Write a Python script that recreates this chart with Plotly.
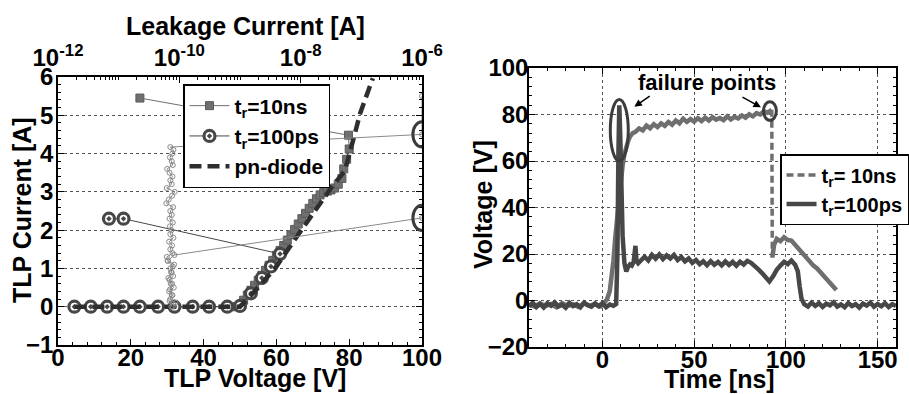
import numpy as np
import plotly.graph_objects as go

# ---------------- TLP I-V and leakage data (left panel) ----------------
# t_r = 10 ns TLP I-V (V, A); last point is the post-failure snapback
v_tlp_10ns = [4.5, 9, 13.5, 18, 22.5, 27.5, 32, 37, 41.5, 46.5, 48.5,
              50, 51, 52, 53, 54, 55, 56, 57, 58, 59, 60, 61, 62, 63, 64, 65, 66, 67, 68,
              69, 70, 71, 72, 73, 74, 75, 76, 77, 78, 78.5, 79.3, 80, 79.8, 22.5]
i_tlp_10ns = [0, 0, 0, 0, 0, 0, 0, 0, 0, 0, 0,
              0.05, 0.17, 0.3, 0.43, 0.56, 0.69, 0.82, 0.95, 1.08, 1.21, 1.34, 1.47, 1.6, 1.74,
              1.88, 2.02, 2.16, 2.3, 2.44, 2.57, 2.7, 2.82, 2.92, 2.98, 3.02, 3.05, 3.1, 3.2,
              3.35, 3.6, 3.85, 4.12, 4.48, 5.45]

# t_r = 100 ps TLP I-V
v_tlp_100ps = [4.5, 9, 13.5, 18, 22.5, 27.5, 32, 37, 41.5, 46.5, 50, 53, 56, 58.5, 61, 18, 14]
i_tlp_100ps = [0, 0, 0, 0, 0, 0, 0, 0, 0, 0, 0.02, 0.35, 0.75, 1.05, 1.38, 2.3, 2.3]

# pn-diode reference I-V
v_diode = [4.5, 50, 55, 60, 65, 70, 75, 78.8, 80.2, 81.5, 83, 84.8, 86.5]
i_diode = [0, 0, 0.5, 1.05, 1.75, 2.45, 3.1, 3.55, 4.0, 4.5, 5.05, 5.55, 5.97]

# leakage current after each pulse (A) vs. TLP current (A)
i_leak_10ns = [0.0, 0.1, 0.2, 0.3, 0.4, 0.5, 0.6, 0.7, 0.8, 0.9, 1.0, 1.1, 1.2, 1.3, 1.4,
               1.5, 1.6, 1.7, 1.8, 1.9, 2.0, 2.1, 2.2, 2.3, 2.4, 2.5, 2.6, 2.7, 2.8, 2.9,
               3.0, 3.1, 3.2, 3.3, 3.4, 3.5, 3.6, 3.7, 3.8, 3.9, 4.0, 4.1, 4.17, 4.5, 5.5]
leak_10ns = [7.8e-11, 8.7e-11, 7.1e-11, 7.5e-11, 6.8e-11, 8.1e-11, 7.2e-11, 6.9e-11, 7.9e-11,
             7.5e-11, 7.1e-11, 8.2e-11, 6.5e-11, 6.2e-11, 7.7e-11, 7.1e-11, 7.6e-11, 6.8e-11,
             8.0e-11, 7.1e-11, 7.4e-11, 7.0e-11, 7.8e-11, 6.9e-11, 7.5e-11, 7.1e-11, 7.9e-11,
             6.1e-11, 6.7e-11, 7.6e-11, 8.4e-11, 6.2e-11, 7.5e-11, 7.1e-11, 7.7e-11, 6.9e-11,
             6.3e-11, 7.8e-11, 7.5e-11, 7.0e-11, 7.7e-11, 8.0e-11, 7.1e-11, 1.0e-6, 1.0e-6]

i_leak_100ps = [0.0, 0.15, 0.3, 0.45, 0.6, 0.75, 0.9, 1.05, 1.2, 1.35, 2.32]
leak_100ps = [7.4e-11, 6.9e-11, 7.7e-11, 7.0e-11, 7.6e-11, 6.6e-11, 7.3e-11, 7.8e-11,
              6.4e-11, 8.3e-11, 1.0e-6]

# ---------------- transient waveforms (right panel) ----------------
t_100ps = [-40, -38, -36, -34, -32, -30, -28, -26, -24, -22, -20, -18, -16, -14, -12, -10,
           -8, -6, -4, -2, 0, 2, 4, 6, 7.5,
           8.2, 8.7, 9.2, 9.7, 10.3, 11, 12, 13, 14, 15, 16, 17, 18, 18.6, 19.5,
           21, 23, 25, 27, 29, 31, 33, 35, 37, 39, 41, 43, 45, 47, 49, 51, 53, 55, 57, 59,
           61, 63, 65, 67, 69, 71, 73, 75, 77, 79, 81, 83, 85, 87, 89, 91, 93, 95, 97, 99,
           101, 103, 105, 106.5, 107.5, 108.5,
           110, 112, 114, 116, 118, 120, 122, 124, 126, 128, 130, 132, 134, 136, 138, 140,
           142, 144, 146, 148, 150, 152, 154, 156, 158, 160]
v_100ps = [-2.5, -1.0, -2.8, -1.5, -3.0, -1.2, -2.2, -0.8, -2.6, -1.8, -3.1, -1.0, -2.4, -1.6,
           -2.9, -0.9, -2.1, -2.7, -1.3, -2.5, -1.1, -2.9, -1.7, -2.3, -1.5,
           20, 62, 84, 72, 48, 28, 16, 12.5, 14.5, 15.5, 15, 16.5, 23.5, 17, 16,
           17.5, 18.8, 17.2, 19.6, 18, 19.8, 17.8, 19.4, 18.1, 19.6, 17.4, 18.7, 16.8, 18.1,
           16.2, 17.4, 15.6, 16.9, 15.2, 16.9, 15.4, 16.6, 15.1, 16.8, 15.3, 16.6, 15.0, 16.7,
           15.5, 17.0, 16.2, 15.0, 13.4, 11.8, 9.6, 8.2, 10.4, 13.2, 15.0, 16.6, 15.6, 17.2,
           15.4, 12.5, 6.0, 0.8,
           -1.6, -2.6, -0.9, -2.3, -1.2, -2.8, -1.4, -2.1, -0.8, -2.6, -1.7, -2.9, -1.1, -2.4,
           -1.6, -3.0, -1.3, -2.2, -0.9, -2.7, -1.5, -2.5, -1.2, -2.8, -1.6, -2.3]

t_10ns = [-40, -37, -34, -31, -28, -25, -22, -19, -16, -13, -10, -7, -4, -1,
          1, 2.5, 4, 5, 6, 7, 8, 9, 10, 11, 12, 13, 14, 15, 16.5, 18,
          20, 22, 24, 26, 28, 30, 32, 34, 36, 38, 40, 42, 44, 46, 48, 50, 52, 54, 56, 58,
          60, 62, 64, 66, 68, 70, 72, 74, 76, 78, 80, 82, 84, 86, 88, 90,
          92.3, 92.6, 93.6,
          95, 97, 99, 101, 103, 105, 107, 109, 111, 113, 115, 117, 119, 121, 123, 125, 127.5]
v_10ns = [-1.8, -2.6, -1.2, -2.4, -1.5, -2.9, -1.1, -2.3, -1.7, -2.8, -1.3, -2.2, -1.6, -2.5,
          -1.0, 0.5, 4, 9, 17, 27, 35, 42, 52, 58, 63, 66.5, 68.5, 70.5, 72, 72.5,
          74, 73.2, 75.2, 74.1, 75.8, 74.6, 76.2, 75.1, 76.8, 75.6, 77.4, 76.2, 78.2, 76.8,
          78.0, 76.9, 78.4, 77.2, 78.6, 77.4, 78.9, 77.8, 78.5, 77.6, 79.2, 77.9, 79.0, 78.3,
          79.6, 78.6, 80.1, 79.2, 80.6, 80.0, 81.4, 80.8,
          82.0, 18.5, 24,
          26.5, 25.5, 27.2, 26.0, 25.8, 24.0, 21.5, 20.0, 18.2, 16.5, 15.0, 13.8, 12.0, 10.5,
          9.0, 7.2, 4.5]
fail_idx_10ns = 66  # last sample before the 10 ns device breaks down

# ---------------- page geometry ----------------
W, H = 909, 394
def fx(p):
    return p / W
def fy(p):
    return 1 - p / H

FONT = "Liberation Sans, Arial, Helvetica, sans-serif"
C10 = "#6f6f6f"
C100 = "#474747"
CLEAK = "#8a8a8a"

fig = go.Figure()

# left panel traces
fig.add_trace(go.Scatter(
    x=v_tlp_10ns, y=i_tlp_10ns, mode="lines+markers", name="t<sub>r</sub>=10ns",
    line=dict(color=C10, width=1),
    marker=dict(symbol="square", size=8, color=C10, line=dict(color="#5a5a5a", width=1)),
    xaxis="x", yaxis="y", legend="legend"))
fig.add_trace(go.Scatter(
    x=v_tlp_100ps, y=i_tlp_100ps, mode="lines+markers", name="t<sub>r</sub>=100ps",
    line=dict(color=C100, width=1),
    marker=dict(symbol="circle-dot", size=11, color="white", line=dict(color=C100, width=3.2)),
    xaxis="x", yaxis="y", legend="legend"))
fig.add_trace(go.Scatter(
    x=v_diode, y=i_diode, mode="lines", name="pn-diode",
    line=dict(color="#2e2e2e", width=4.5, dash="12px,6px"),
    xaxis="x", yaxis="y", legend="legend"))
fig.add_trace(go.Scatter(
    x=leak_10ns, y=i_leak_10ns, mode="lines+markers", showlegend=False,
    line=dict(color=CLEAK, width=1),
    marker=dict(symbol="circle-open", size=5, color=CLEAK, line=dict(width=1)),
    xaxis="x3", yaxis="y"))
fig.add_trace(go.Scatter(
    x=leak_100ps, y=i_leak_100ps, mode="lines+markers", showlegend=False,
    line=dict(color=CLEAK, width=1),
    marker=dict(symbol="circle-open", size=5, color=CLEAK, line=dict(width=1)),
    xaxis="x3", yaxis="y"))

# right panel traces
k = fail_idx_10ns
fig.add_trace(go.Scatter(
    x=t_10ns[:k + 1], y=v_10ns[:k + 1], mode="lines", showlegend=False,
    line=dict(color=C10, width=4.5), xaxis="x2", yaxis="y2"))
fig.add_trace(go.Scatter(
    x=t_10ns[k:k + 2], y=v_10ns[k:k + 2], mode="lines", name="t<sub>r</sub>= 10ns",
    line=dict(color=C10, width=3.5, dash="7px,4px"), xaxis="x2", yaxis="y2",
    legend="legend2"))
fig.add_trace(go.Scatter(
    x=t_10ns[k + 1:], y=v_10ns[k + 1:], mode="lines", showlegend=False,
    line=dict(color=C10, width=4.5), xaxis="x2", yaxis="y2"))
fig.add_trace(go.Scatter(
    x=t_100ps, y=v_100ps, mode="lines", name="t<sub>r</sub>=100ps",
    line=dict(color=C100, width=4.5), xaxis="x2", yaxis="y2", legend="legend2"))

# ---------------- axes ----------------
base = dict(showline=True, linecolor="black", linewidth=1.5, ticks="inside", ticklen=6,
            tickwidth=1.2, tickcolor="black", zeroline=False, automargin=False,
            tickfont=dict(size=24, family=FONT, color="black", weight="bold"))
grid = dict(showgrid=True, gridcolor="#555555", gridwidth=1, griddash="dot")
tfont = dict(size=25, family=FONT, color="black", weight="bold")

left_dom_x = [fx(58), fx(422)]
left_dom_y = [fy(345), fy(77)]
right_dom_x = [fx(529), fx(896)]
right_dom_y = [fy(347), fy(68)]

fig.update_layout(
    xaxis=dict(**base, domain=left_dom_x, anchor="y", range=[0, 100],
               tickvals=[0, 20, 40, 60, 80, 100], showgrid=False, ticklabelstandoff=-10,
               minor=dict(ticks="inside", ticklen=3, dtick=4, tickcolor="black")),
    xaxis3=dict(**base, overlaying="x", side="top", anchor="y", type="log", range=[-12, -6],
                tickvals=[1e-12, 1e-10, 1e-8, 1e-6],
                ticktext=["10<sup>-12</sup>", "10<sup>-10</sup>", "10<sup>-8</sup>",
                          "10<sup>-6</sup>"],
                showgrid=False,
                minor=dict(ticks="inside", ticklen=3, dtick="D1", tickcolor="black")),
    yaxis=dict(**base, **grid, domain=left_dom_y, anchor="x", range=[-1, 6], dtick=1,
               mirror="ticks", ticklabelstandoff=-2,
               minor=dict(ticks="inside", ticklen=3, dtick=0.2, tickcolor="black")),
    xaxis2=dict(**base, **grid, domain=right_dom_x, anchor="y2", range=[-40, 160],
                tickvals=[0, 50, 100, 150], mirror="ticks", ticklabelstandoff=-10,
                minor=dict(ticks="inside", ticklen=3, dtick=10, tickcolor="black")),
    yaxis2=dict(**base, **grid, domain=right_dom_y, anchor="x2", range=[-20, 100], dtick=20,
                mirror="ticks", ticklabelstandoff=-6,
                minor=dict(ticks="inside", ticklen=3, dtick=4, tickcolor="black")),
)

# ---------------- legends ----------------
fig.update_layout(
    legend=dict(x=fx(183), y=fy(84), xanchor="left", yanchor="top",
                bgcolor="white", bordercolor="black", borderwidth=1.5,
                font=dict(size=21, family=FONT, color="black", weight="bold"),
                itemwidth=40, tracegroupgap=0),
    legend2=dict(x=1.0, y=fy(154), xanchor="right", yanchor="top",
                 bgcolor="white", bordercolor="black", borderwidth=1.5,
                 font=dict(size=20, family=FONT, color="black", weight="bold"),
                 itemwidth=30, tracegroupgap=0),
)

# ---------------- failure markers ----------------
ring = dict(color="#3c3c3c", width=3)
shapes = []
# leakage jumps after breakdown, drawn on the bottom-axis scale of the left panel
for leak, cur in [(leak_10ns[-2], i_leak_10ns[-2]), (leak_100ps[-1], i_leak_100ps[-1])]:
    xc = (np.log10(leak) + 12) / 6 * 100
    shapes.append(dict(type="circle", xref="x", yref="y", x0=xc - 2.5, x1=xc + 2.5,
                       y0=cur - 0.33, y1=cur + 0.33, line=ring, layer="above"))
# breakdown instants on the waveforms
ipk = int(np.argmax(v_100ps))
shapes.append(dict(type="circle", xref="x2", yref="y2",
                   x0=t_100ps[ipk] - 4.9, x1=t_100ps[ipk] + 4.9,
                   y0=v_100ps[ipk] - 24, y1=v_100ps[ipk] + 2.5, line=ring, layer="above"))
shapes.append(dict(type="circle", xref="x2", yref="y2",
                   x0=t_10ns[k] - 4.5, x1=t_10ns[k] + 2.5,
                   y0=v_10ns[k] - 4.5, y1=v_10ns[k] + 3.5, line=ring, layer="above"))
fig.update_layout(shapes=shapes)

# axis titles and callouts
def title(text, x, y, angle=0):
    return dict(x=fx(x), y=fy(y), xref="paper", yref="paper", text=text, showarrow=False,
                textangle=angle, xanchor="center", yanchor="middle", font=tfont)

annots = [
    title("Leakage Current [A]", 245, 26),
    title("TLP Voltage [V]", 255, 378),
    title("TLP Current [A]", 22, 210, -90),
    title("Time [ns]", 719, 379),
    title("Voltage [V]", 483, 205, -90),
    dict(x=57, y=93.8, xref="x2", yref="y2", text="failure points", showarrow=False,
         font=dict(size=22, family=FONT, color="black", weight="bold")),
    dict(x=17.4, y=83.3, ax=26.6, ay=88.4, xref="x2", yref="y2", axref="x2", ayref="y2",
         text="", showarrow=True, arrowhead=2, arrowsize=1, arrowwidth=1.5,
         arrowcolor="black"),
    dict(x=86.4, y=83.1, ax=75.5, ay=87.8, xref="x2", yref="y2", axref="x2", ayref="y2",
         text="", showarrow=True, arrowhead=2, arrowsize=1, arrowwidth=1.5,
         arrowcolor="black"),
]
fig.update_layout(annotations=annots)

fig.update_layout(
    template="none",
    autosize=False,
    width=W, height=H,
    margin=dict(l=0, r=0, t=0, b=0, pad=0),
    paper_bgcolor="white", plot_bgcolor="white",
    font=dict(family=FONT, color="black", weight="bold"),
)

fig.write_html("out.html", config={"responsive": False})
